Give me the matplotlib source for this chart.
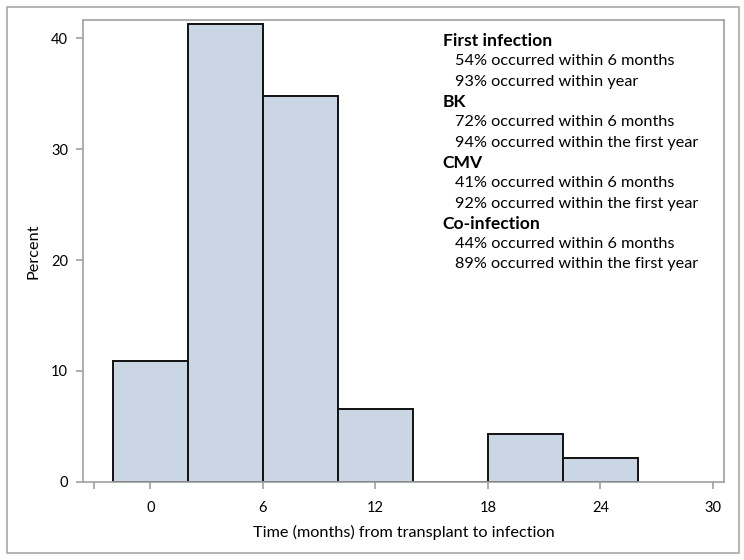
import matplotlib.pyplot as plt
from matplotlib.patches import Rectangle
import numpy as np

# Data: histogram of time to infection (months), percent per 4-month bin
bin_edges = [-2, 2, 6, 10, 14, 18, 22, 26]
percents = [10.87, 41.30, 34.78, 6.52, 0.0, 4.35, 2.17]

x_ticks = [-3, 0, 6, 12, 18, 24, 30]
x_tick_labels = ['', '0', '6', '12', '18', '24', '30']
y_ticks = [0, 10, 20, 30, 40]

notes = [
    ('First infection', True),
    ('54% occurred within 6 months', False),
    ('93% occurred within year', False),
    ('BK', True),
    ('72% occurred within 6 months', False),
    ('94% occurred within the first year', False),
    ('CMV', True),
    ('41% occurred within 6 months', False),
    ('92% occurred within the first year', False),
    ('Co-infection', True),
    ('44% occurred within 6 months', False),
    ('89% occurred within the first year', False),
]

fig = plt.figure(figsize=(7.44, 5.6), dpi=100)
ax = fig.add_axes([0.1122, 0.1398, 0.861, 0.8245])

# outer border
fig.patches.append(Rectangle((0.0095, 0.0125), 0.984, 0.975, transform=fig.transFigure,
                             fill=False, edgecolor='#a8a8a8', linewidth=1.2))

edges = np.array(bin_edges)
ax.bar(edges[:-1], percents, width=np.diff(edges), align='edge',
       color='#cbd6e5', edgecolor='#111111', linewidth=1.4, zorder=2)

ax.set_xlim(-3.57, 30.6)
ax.set_ylim(0, 41.67)
ax.set_xticks(x_ticks)
ax.set_xticklabels(x_tick_labels)
ax.set_yticks(y_ticks)

for s in ax.spines.values():
    s.set_color('#a0a0a0')
    s.set_linewidth(1.2)
ax.tick_params(axis='both', color='#a0a0a0', length=5, width=1.2, labelsize=10.5,
               labelcolor='black', labelfontfamily='Lato')
ax.tick_params(axis='x', pad=9)
ax.tick_params(axis='y', pad=6)

ax.set_xlabel('Time (months) from transplant to infection', family='Lato', fontsize=11.7, labelpad=7)
ax.set_ylabel('Percent', family='Lato', fontsize=11.7, labelpad=8)

y0 = 0.9545
step = 0.044
for i, (txt, bold) in enumerate(notes):
    ax.text(0.561 if bold else 0.580, y0 - i * step, txt, transform=ax.transAxes,
            family='Lato', fontsize=12.6 if bold else 11.7,
            fontweight='bold' if bold else 'normal',
            va='center', ha='left')

plt.savefig('out.png', dpi=100)
